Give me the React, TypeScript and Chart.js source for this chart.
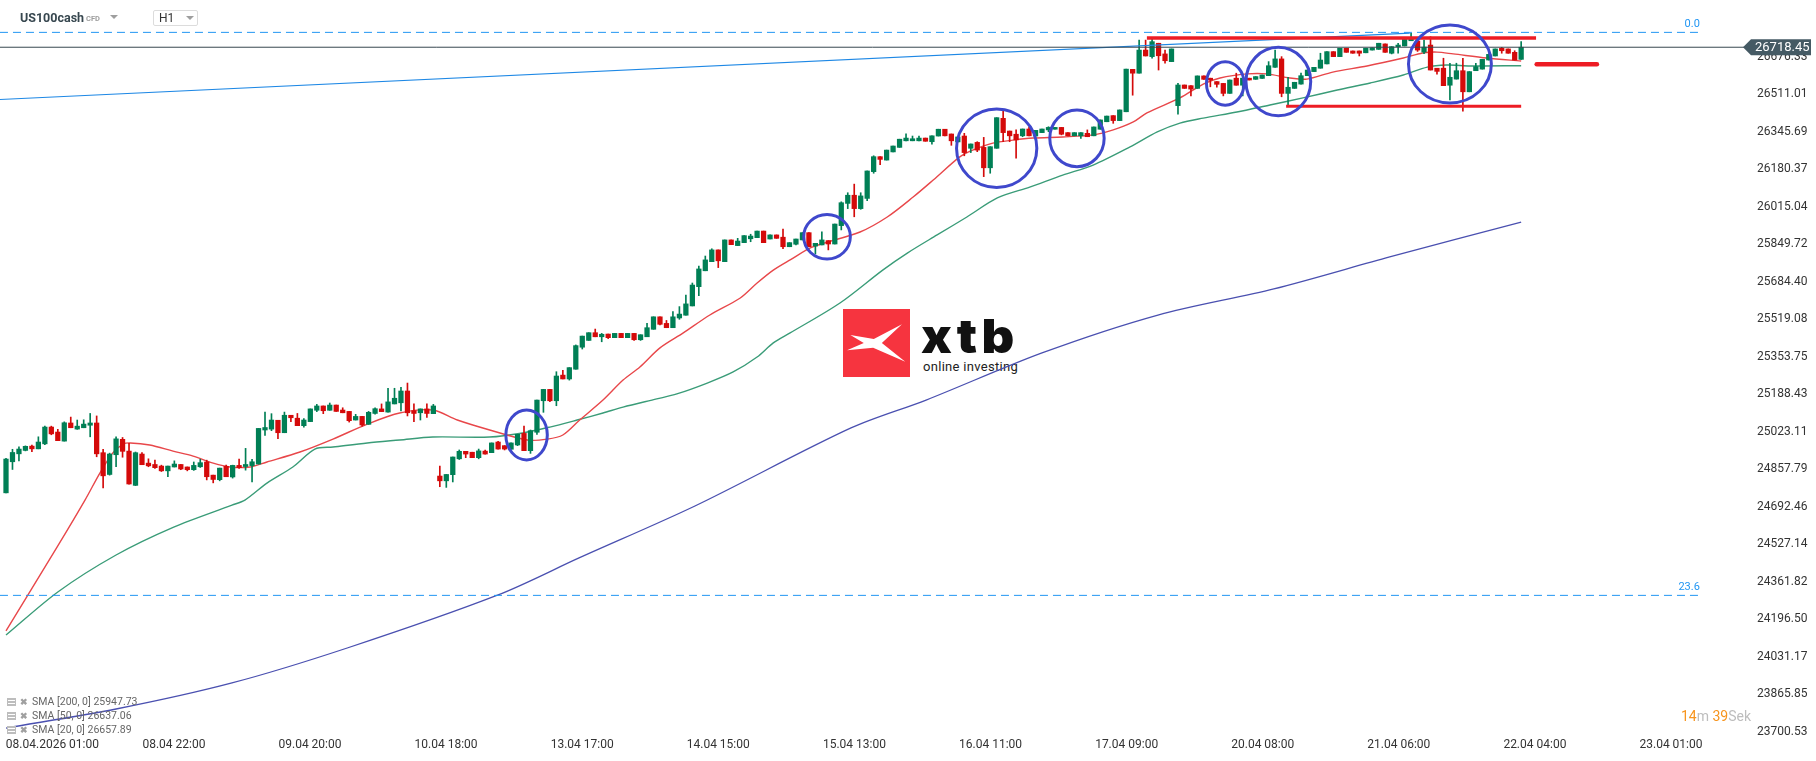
import React, { useEffect, useRef } from 'react';
import { Chart, registerables } from 'chart.js';

Chart.register(...registerables);
Chart.defaults.font.family = 'Roboto';

// [open, high, low, close] hourly candles, US100cash H1
const candles: number[][] = [
  [24754, 24906, 24754, 24903], [24891, 24946, 24857, 24932], [24926, 24957, 24895, 24947], [24941, 24961, 24939, 24959],
  [24960, 24965, 24935, 24948], [24948, 25001, 24948, 24978], [24970, 25048, 24966, 25044], [25044, 25048, 25010, 25014],
  [25022, 25034, 24984, 24984], [24982, 25067, 24982, 25063], [25062, 25088, 25041, 25041], [25035, 25075, 25034, 25048],
  [25041, 25076, 25041, 25057], [25052, 25104, 25001, 25062], [25062, 25093, 24913, 24926], [24931, 24946, 24776, 24829],
  [24835, 24929, 24832, 24925], [24922, 25001, 24869, 24992], [24990, 24998, 24911, 24937], [24938, 24972, 24792, 24793],
  [24787, 24934, 24786, 24931], [24925, 24931, 24878, 24878], [24885, 24904, 24869, 24873], [24879, 24898, 24862, 24865],
  [24872, 24876, 24848, 24851], [24851, 24872, 24825, 24872], [24868, 24895, 24868, 24881], [24879, 24879, 24856, 24859],
  [24868, 24868, 24851, 24856], [24856, 24890, 24853, 24875], [24869, 24902, 24866, 24887], [24890, 24898, 24811, 24825],
  [24832, 24832, 24798, 24813], [24812, 24863, 24807, 24863], [24871, 24876, 24825, 24825], [24824, 24876, 24819, 24875],
  [24875, 24903, 24862, 24865], [24870, 24950, 24854, 24879], [24874, 24902, 24802, 24891], [24881, 25038, 24881, 25038],
  [25031, 25110, 25007, 25042], [25035, 25103, 25028, 25075], [25074, 25074, 24993, 25019], [25019, 25110, 25019, 25096],
  [25096, 25096, 25068, 25085], [25083, 25104, 25050, 25050], [25050, 25081, 25043, 25075], [25068, 25124, 25068, 25124],
  [25118, 25144, 25112, 25137], [25137, 25137, 25103, 25116], [25118, 25150, 25118, 25141], [25141, 25141, 25113, 25113],
  [25119, 25129, 25107, 25107], [25113, 25113, 25066, 25072], [25075, 25100, 25075, 25091], [25091, 25091, 25048, 25053],
  [25056, 25113, 25056, 25109], [25104, 25129, 25101, 25125], [25124, 25146, 25112, 25112], [25110, 25215, 25110, 25155],
  [25146, 25215, 25146, 25171], [25151, 25219, 25115, 25203], [25203, 25238, 25093, 25107], [25116, 25146, 25068, 25104],
  [25107, 25124, 25075, 25124], [25124, 25146, 25087, 25104], [25103, 25144, 25103, 25137], [24828, 24872, 24781, 24807],
  [24807, 24835, 24778, 24835], [24834, 24912, 24802, 24912], [24904, 24943, 24901, 24937], [24937, 24937, 24909, 24925],
  [24933, 24933, 24909, 24909], [24909, 24947, 24904, 24939], [24938, 24943, 24925, 24925], [24931, 24974, 24931, 24974],
  [24978, 24981, 24946, 24947], [24962, 24962, 24943, 24947], [24946, 24974, 24946, 24974], [24965, 25012, 24962, 25012],
  [25016, 25048, 24940, 24940], [24940, 25031, 24928, 25028], [25021, 25163, 25012, 25163], [25160, 25210, 25109, 25210],
  [25210, 25210, 25156, 25160], [25160, 25288, 25138, 25269], [25273, 25294, 25256, 25256], [25256, 25306, 25251, 25306],
  [25299, 25406, 25299, 25403], [25396, 25445, 25388, 25445], [25426, 25460, 25426, 25460], [25460, 25476, 25442, 25442],
  [25442, 25457, 25420, 25453], [25454, 25454, 25434, 25438], [25438, 25457, 25438, 25457], [25457, 25457, 25438, 25438],
  [25438, 25457, 25438, 25457], [25457, 25457, 25426, 25429], [25429, 25451, 25426, 25451], [25442, 25501, 25442, 25482],
  [25475, 25530, 25475, 25530], [25530, 25530, 25494, 25497], [25501, 25514, 25482, 25482], [25482, 25553, 25482, 25530],
  [25525, 25575, 25519, 25542], [25537, 25626, 25537, 25587], [25578, 25679, 25578, 25670], [25663, 25754, 25623, 25741],
  [25733, 25798, 25733, 25781], [25773, 25830, 25773, 25825], [25825, 25825, 25747, 25777], [25773, 25869, 25773, 25869],
  [25869, 25869, 25848, 25848], [25844, 25876, 25844, 25864], [25857, 25888, 25857, 25888], [25874, 25894, 25861, 25886],
  [25879, 25908, 25879, 25908], [25908, 25908, 25857, 25857], [25873, 25891, 25873, 25891], [25891, 25891, 25876, 25876],
  [25881, 25917, 25830, 25839], [25839, 25857, 25839, 25857], [25850, 25873, 25847, 25873], [25869, 25901, 25869, 25901],
  [25901, 25901, 25839, 25839], [25842, 25854, 25807, 25854], [25847, 25905, 25847, 25869], [25866, 25866, 25825, 25851],
  [25851, 25939, 25851, 25939], [25932, 26037, 25913, 26033], [26030, 26077, 26007, 26066], [26066, 26115, 25971, 26007],
  [26007, 26077, 26004, 26063], [26052, 26173, 26042, 26173], [26170, 26240, 26163, 26236], [26236, 26236, 26201, 26224],
  [26221, 26265, 26221, 26265], [26257, 26283, 26257, 26283], [26277, 26313, 26277, 26313], [26306, 26337, 26306, 26318],
  [26306, 26327, 26306, 26315], [26306, 26327, 26306, 26318], [26318, 26318, 26304, 26304], [26302, 26328, 26291, 26328],
  [26327, 26357, 26327, 26357], [26357, 26357, 26328, 26328], [26336, 26336, 26286, 26306], [26301, 26323, 26301, 26323],
  [26327, 26339, 26240, 26254], [26273, 26292, 26254, 26292], [26299, 26302, 26258, 26265], [26277, 26321, 26148, 26187],
  [26187, 26280, 26163, 26280], [26273, 26408, 26273, 26408], [26405, 26437, 26302, 26342], [26349, 26349, 26302, 26328],
  [26335, 26354, 26229, 26310], [26328, 26358, 26324, 26358], [26358, 26368, 26328, 26328], [26327, 26352, 26327, 26352],
  [26342, 26358, 26342, 26358], [26354, 26368, 26346, 26365], [26357, 26365, 26357, 26365], [26365, 26365, 26332, 26335],
  [26342, 26342, 26328, 26328], [26328, 26342, 26328, 26342], [26328, 26342, 26317, 26342], [26339, 26354, 26324, 26324],
  [26328, 26367, 26328, 26367], [26357, 26398, 26357, 26398], [26390, 26415, 26390, 26415], [26417, 26417, 26383, 26395],
  [26395, 26442, 26395, 26442], [26434, 26622, 26434, 26622], [26621, 26621, 26507, 26604], [26604, 26750, 26604, 26706],
  [26706, 26750, 26680, 26680], [26677, 26753, 26670, 26743], [26736, 26736, 26618, 26681], [26689, 26706, 26648, 26659],
  [26655, 26711, 26655, 26711], [26461, 26559, 26423, 26552], [26552, 26552, 26537, 26537], [26549, 26549, 26504, 26534],
  [26537, 26592, 26537, 26592], [26592, 26592, 26577, 26577], [26582, 26582, 26544, 26574], [26567, 26567, 26542, 26555],
  [26559, 26559, 26504, 26515], [26515, 26574, 26515, 26574], [26582, 26604, 26551, 26551], [26551, 26582, 26504, 26582],
  [26582, 26582, 26574, 26574], [26577, 26589, 26577, 26589], [26581, 26596, 26581, 26596], [26593, 26655, 26593, 26637],
  [26630, 26706, 26630, 26667], [26667, 26677, 26500, 26515], [26515, 26586, 26464, 26542], [26537, 26564, 26537, 26564],
  [26556, 26604, 26556, 26593], [26593, 26618, 26593, 26618], [26611, 26630, 26611, 26630], [26626, 26692, 26626, 26662],
  [26645, 26699, 26645, 26699], [26699, 26699, 26677, 26677], [26677, 26714, 26677, 26714], [26714, 26714, 26696, 26696],
  [26702, 26702, 26692, 26692], [26702, 26702, 26680, 26692], [26694, 26714, 26694, 26714], [26706, 26716, 26706, 26716],
  [26709, 26736, 26709, 26736], [26733, 26733, 26696, 26696], [26692, 26721, 26689, 26721], [26721, 26736, 26692, 26728],
  [26724, 26753, 26724, 26753], [26747, 26780, 26747, 26758], [26746, 26750, 26700, 26706], [26697, 26750, 26690, 26719],
  [26728, 26765, 26618, 26618], [26626, 26626, 26600, 26612], [26626, 26670, 26549, 26549], [26551, 26648, 26486, 26586],
  [26578, 26648, 26578, 26615], [26615, 26670, 26437, 26522], [26522, 26611, 26522, 26611], [26615, 26648, 26615, 26633],
  [26622, 26665, 26622, 26665], [26662, 26690, 26662, 26687], [26680, 26711, 26680, 26711], [26714, 26718, 26692, 26703],
  [26711, 26711, 26692, 26692], [26696, 26703, 26662, 26662], [26665, 26743, 26665, 26718.45],
];

// moving averages: [bar index, value]
const sma20: number[][] = [
  [0, 24145], [8, 24520], [12.2, 24722], [14.5, 24841], [16.5, 24930], [18.1, 24969], [19.2, 24974], [22.2, 24965],
  [25.8, 24938], [28.9, 24916], [32, 24885], [34.6, 24868], [37.7, 24868], [40.3, 24890], [45.4, 24934], [50.5, 24991],
  [55.8, 25057], [60.8, 25106], [65.9, 25119], [69.7, 25075], [74.7, 25031], [80.5, 24987], [83.6, 24991], [86, 25009],
  [88.6, 25075], [92.2, 25163], [95.3, 25251], [97.9, 25309], [101, 25393], [104.6, 25459], [108.7, 25538], [113.4, 25613],
  [116, 25679], [118.5, 25736], [121.1, 25781], [124.6, 25838], [131.9, 25904], [136.1, 25970], [140.1, 26058], [143.2, 26133],
  [147.3, 26235], [149.3, 26265], [152.4, 26296], [155.5, 26309], [158.6, 26318], [163.2, 26323], [167.9, 26332], [171, 26354],
  [174.1, 26389], [176.2, 26429], [181.3, 26495], [184.9, 26556], [187.5, 26583], [191.7, 26601], [194.7, 26601], [198.3, 26583],
  [200.9, 26578], [204.9, 26609], [210.2, 26636], [215.8, 26671], [218.8, 26693], [221, 26697], [223.5, 26689], [228.7, 26671],
  [234, 26657.89],
];
const sma50: number[][] = [
  [0, 24127], [8, 24317], [17, 24480], [25.9, 24603], [34.9, 24700], [36.9, 24722], [40.3, 24797], [44.3, 24868],
  [47.7, 24947], [50.5, 24956], [55.8, 24974], [60.8, 24987], [65.9, 25000], [74.7, 25000], [79.8, 25018], [84, 25044],
  [88.2, 25075], [92.2, 25106], [95.3, 25132], [100.5, 25168], [103.6, 25190], [108.3, 25238], [112.3, 25287], [116, 25353],
  [118.5, 25415], [121.1, 25459], [128.8, 25591], [135.4, 25736], [139.2, 25811], [143.8, 25891], [148.4, 25970], [153.1, 26054],
  [158.1, 26102], [163.2, 26155], [167.9, 26199], [173.6, 26279], [177.8, 26345], [181.3, 26384], [184.9, 26406], [190.1, 26433],
  [195.2, 26464], [200.3, 26495], [205.6, 26530], [210.7, 26561], [215.8, 26596], [219.5, 26631], [222.5, 26640], [226.1, 26636],
  [234, 26637.06],
];
const sma200: number[][] = [
  [0, 23717], [17, 23801], [34.9, 23916], [52.7, 24070], [76, 24304], [88.5, 24467], [106.4, 24696], [130.5, 25040],
  [142.1, 25163], [160, 25371], [177.9, 25538], [195.8, 25653], [213.7, 25794], [234, 25947.73],
];

const yTickValues = [26676.33, 26511.01, 26345.69, 26180.37, 26015.04, 25849.72, 25684.40, 25519.08, 25353.75, 25188.43,
  25023.11, 24857.79, 24692.46, 24527.14, 24361.82, 24196.50, 24031.17, 23865.85, 23700.53];
const xTickPositions = [7.17, 25.93, 46.95, 67.97, 88.99, 110.0, 131.03, 152.05, 173.07, 194.09, 215.1, 236.12, 257.14];
const xTickLabels = ['08.04.2026 01:00', '08.04 22:00', '09.04 20:00', '10.04 18:00', '13.04 17:00', '14.04 15:00',
  '15.04 13:00', '16.04 11:00', '17.04 09:00', '20.04 08:00', '21.04 06:00', '22.04 04:00', '23.04 01:00'];

const fibValues = [26784, 24302];
const fibLabels = ['0.0', '23.6'];
const fibSpan = [-0.93, 261.6];
const trendStart = [-0.93, 26488];
const trendEnd = [216.8, 26781];
const resistance = [176.2, 236.3, 26759];
const support = [197.7, 234, 26458];
const target = [236.4, 245.7, 26643];
// [centre bar, centre value, x radius in bars, y radius in points]
const circles: number[][] = [
  [80.4, 25009, 3.2, 110], [126.8, 25883, 3.6, 98], [153.0, 26273, 6.2, 173], [165.4, 26317, 4.2, 125],
  [188.3, 26559, 2.9, 96], [196.5, 26567, 5.0, 151], [223.0, 26645, 6.4, 172],
];

const X_MIN = -0.927;
const X_MAX = 268.57;
const Y_MIN = 23673.2;
const Y_MAX = 26926.7;

const UP = '#007f55';
const DOWN = '#d40a0a';

const pts = (arr: number[][]) => arr.map(([x, y]) => ({ x, y }));
const hLine = (x0: number, x1: number, v: number) => [{ x: x0, y: v }, { x: x1, y: v }];

const annotationPlugin = {
  id: 'annotations',
  afterDatasetsDraw(chart: any) {
    const { ctx, scales } = chart;
    const x = scales.x, y = scales.y;
    ctx.save();
    ctx.strokeStyle = '#3f48cc';
    ctx.lineWidth = 3;
    for (const [cx, cy, rx, ry] of circles) {
      const px = x.getPixelForValue(cx);
      const py = y.getPixelForValue(cy);
      const rpx = x.getPixelForValue(cx + rx) - px;
      const rpy = py - y.getPixelForValue(cy + ry);
      ctx.beginPath();
      ctx.ellipse(px, py, rpx, rpy, 0, 0, Math.PI * 2);
      ctx.stroke();
    }
    ctx.font = '11px Roboto';
    ctx.fillStyle = '#2196f3';
    ctx.textAlign = 'right';
    ctx.textBaseline = 'alphabetic';
    fibValues.forEach((v, i) => {
      ctx.fillText(fibLabels[i], x.getPixelForValue(fibSpan[1]), y.getPixelForValue(v) - 5);
    });
    ctx.restore();
  },
  afterDraw(chart: any) {
    const { ctx, scales, chartArea } = chart;
    const last = candles[candles.length - 1][3];
    const py = scales.y.getPixelForValue(last);
    const x0 = chartArea.right - 2;
    const x1 = chart.width - 5;
    ctx.save();
    ctx.fillStyle = '#455a64';
    ctx.beginPath();
    ctx.moveTo(x0, py);
    ctx.lineTo(x0 + 8, py - 8);
    ctx.lineTo(x1, py - 8);
    ctx.lineTo(x1, py + 8);
    ctx.lineTo(x0 + 8, py + 8);
    ctx.closePath();
    ctx.fill();
    ctx.fillStyle = '#ffffff';
    ctx.font = '13px Roboto';
    ctx.textAlign = 'left';
    ctx.textBaseline = 'middle';
    ctx.fillText(last.toFixed(2), x0 + 12, py + 0.5);
    ctx.restore();
  },
};

export default function App() {
  const ref = useRef<HTMLCanvasElement>(null);

  useEffect(() => {
    if (!ref.current) return;
    const colors = candles.map((c) => (c[3] >= c[0] ? UP : DOWN));
    const last = candles[candles.length - 1][3];
    const chart = new Chart(ref.current, {
      type: 'bar',
      data: {
        datasets: [
          {
            type: 'line', data: pts(sma200), borderColor: '#4a50b0', borderWidth: 1.3, pointRadius: 0, tension: 0.3, order: 12,
          } as any,
          {
            type: 'line', data: pts(sma50), borderColor: '#3a9c78', borderWidth: 1.4, pointRadius: 0, tension: 0.3, order: 11,
          } as any,
          {
            type: 'line', data: pts(sma20), borderColor: '#e8474a', borderWidth: 1.4, pointRadius: 0, tension: 0.3, order: 10,
          } as any,
          {
            type: 'bar', data: candles.map((c, i) => ({ x: i, y: [c[2], c[1]] })), backgroundColor: colors,
            barThickness: 1, grouped: false, borderWidth: 0, order: 6,
          } as any,
          {
            type: 'bar', data: candles.map((c, i) => ({ x: i, y: [c[0], c[3]] })), backgroundColor: colors,
            barThickness: 4.6, minBarLength: 1, grouped: false, borderWidth: 0, order: 5,
          } as any,
          ...fibValues.map((v) => ({
            type: 'line', data: hLine(fibSpan[0], fibSpan[1], v), borderColor: '#2196f3', borderWidth: 1,
            borderDash: [8, 5], pointRadius: 0, order: 4,
          } as any)),
          {
            type: 'line', data: [{ x: trendStart[0], y: trendStart[1] }, { x: trendEnd[0], y: trendEnd[1] }],
            borderColor: '#1e88e5', borderWidth: 1.2, pointRadius: 0, order: 4,
          } as any,
          {
            type: 'line', data: hLine(X_MIN, X_MAX, last), borderColor: '#37474f', borderWidth: 1, pointRadius: 0, order: 3,
          } as any,
          {
            type: 'line', data: hLine(resistance[0], resistance[1], resistance[2]), borderColor: '#ed1c24', borderWidth: 3.5,
            pointRadius: 0, order: 2,
          } as any,
          {
            type: 'line', data: hLine(support[0], support[1], support[2]), borderColor: '#ed1c24', borderWidth: 3,
            pointRadius: 0, order: 2,
          } as any,
          {
            type: 'line', data: hLine(target[0], target[1], target[2]), borderColor: '#ed1c24', borderWidth: 4.5,
            borderCapStyle: 'round', pointRadius: 0, order: 2,
          } as any,
        ],
      },
      options: {
        animation: false,
        responsive: true,
        maintainAspectRatio: false,
        events: [],
        layout: { padding: 0 },
        plugins: { legend: { display: false }, tooltip: { enabled: false } },
        scales: {
          x: {
            type: 'linear', position: 'bottom', min: X_MIN, max: X_MAX, offset: false,
            grid: { display: false, drawTicks: false }, border: { display: false },
            ticks: {
              autoSkip: false, maxRotation: 0, padding: 0, color: '#333', font: { size: 12, family: 'Roboto' },
              callback: (_v: any, i: number) => xTickLabels[i],
            },
            afterBuildTicks: (s: any) => { s.ticks = xTickPositions.map((v) => ({ value: v })); },
            afterFit: (s: any) => { s.height = 23; s.paddingLeft = 0; s.paddingRight = 0; },
          },
          y: {
            type: 'linear', position: 'right', min: Y_MIN, max: Y_MAX,
            grid: { display: false, drawTicks: false }, border: { display: false },
            ticks: {
              autoSkip: false, padding: 12, color: '#333', font: { size: 12, family: 'Roboto' },
              callback: (v: any) => Number(v).toFixed(2),
            },
            afterBuildTicks: (s: any) => { s.ticks = yTickValues.map((v) => ({ value: v })); },
            afterFit: (s: any) => { s.width = 71; s.paddingTop = 0; s.paddingBottom = 0; },
          },
        },
      } as any,
      plugins: [annotationPlugin],
    });
    return () => chart.destroy();
  }, []);

  const legendRows = [
    ['SMA [200, 0]', sma200[sma200.length - 1][1]],
    ['SMA [50, 0]', sma50[sma50.length - 1][1]],
    ['SMA [20, 0]', sma20[sma20.length - 1][1]],
  ] as [string, number][];

  return (
    <div style={{ position: 'fixed', left: 0, top: 0, width: 1816, height: 761, background: '#fff', fontFamily: 'Roboto, sans-serif', overflow: 'hidden' }}>
      {/* watermark */}
      <div style={{ position: 'absolute', left: 843, top: 309, width: 67, height: 68, background: '#f6343f' }}>
        <svg width="67" height="68" viewBox="0 0 100 100">
          <polygon points="11,38 46,44 88,22 58,50 93,78 45,57 6,61 31,50" fill="#fff" />
        </svg>
      </div>
      <div style={{ position: 'absolute', left: 921, top: 312, fontFamily: 'Inter', fontWeight: 900, fontSize: 47, lineHeight: '47px', letterSpacing: 4, color: '#111', transform: 'scaleX(1.08)', transformOrigin: 'left top' }}>xtb</div>
      <div style={{ position: 'absolute', left: 923, top: 359, fontSize: 13, lineHeight: '16px', letterSpacing: 0.3, color: '#222' }}>online investing</div>

      <div style={{ position: 'absolute', left: 0, top: 0, width: 1816, height: 761 }}>
        <canvas ref={ref} />
      </div>

      {/* header */}
      <div style={{ position: 'absolute', left: 20, top: 10, fontSize: 12.5, fontWeight: 700, lineHeight: '16px', color: '#37474f' }}>US100cash</div>
      <div style={{ position: 'absolute', left: 86, top: 14, fontSize: 7.5, fontWeight: 700, lineHeight: '10px', color: '#9e9e9e' }}>CFD</div>
      <div style={{ position: 'absolute', left: 110, top: 15, width: 0, height: 0, borderLeft: '4px solid transparent', borderRight: '4px solid transparent', borderTop: '4px solid #9e9e9e' }} />
      <div style={{ position: 'absolute', left: 153, top: 10, width: 43, height: 14, border: '1px solid #dcdcdc', borderRadius: 2, background: '#fff' }}>
        <div style={{ position: 'absolute', left: 5, top: 0, fontSize: 12, lineHeight: '15px', color: '#333' }}>H1</div>
        <div style={{ position: 'absolute', left: 32, top: 5, width: 0, height: 0, borderLeft: '4px solid transparent', borderRight: '4px solid transparent', borderTop: '4px solid #9e9e9e' }} />
      </div>

      {/* indicator legend */}
      {legendRows.map(([name, val], i) => (
        <div key={name} style={{ position: 'absolute', left: 7, top: 695 + i * 14, height: 14, display: 'flex', alignItems: 'center', fontSize: 10.5, color: '#666', lineHeight: '14px', whiteSpace: 'nowrap' }}>
          <svg width="9" height="8" viewBox="0 0 9 8" style={{ marginRight: 4 }}>
            <rect x="0" y="0" width="9" height="8" fill="#bdbdbd" />
            <rect x="1" y="2" width="7" height="1" fill="#fff" />
            <rect x="1" y="5" width="7" height="1" fill="#fff" />
          </svg>
          <span style={{ color: '#a0a0a0', fontSize: 9, fontWeight: 700, marginRight: 4 }}>✖</span>
          <span>{`${name} ${val.toFixed(2)}`}</span>
        </div>
      ))}

      {/* countdown */}
      <div style={{ position: 'absolute', right: 1816 - 1751, top: 708, fontSize: 14, lineHeight: '17px', whiteSpace: 'nowrap' }}>
        <span style={{ color: '#f7941d' }}>14</span>
        <span style={{ color: '#bdbdbd' }}>m </span>
        <span style={{ color: '#f7941d' }}>39</span>
        <span style={{ color: '#bdbdbd' }}>Sek</span>
      </div>
    </div>
  );
}
